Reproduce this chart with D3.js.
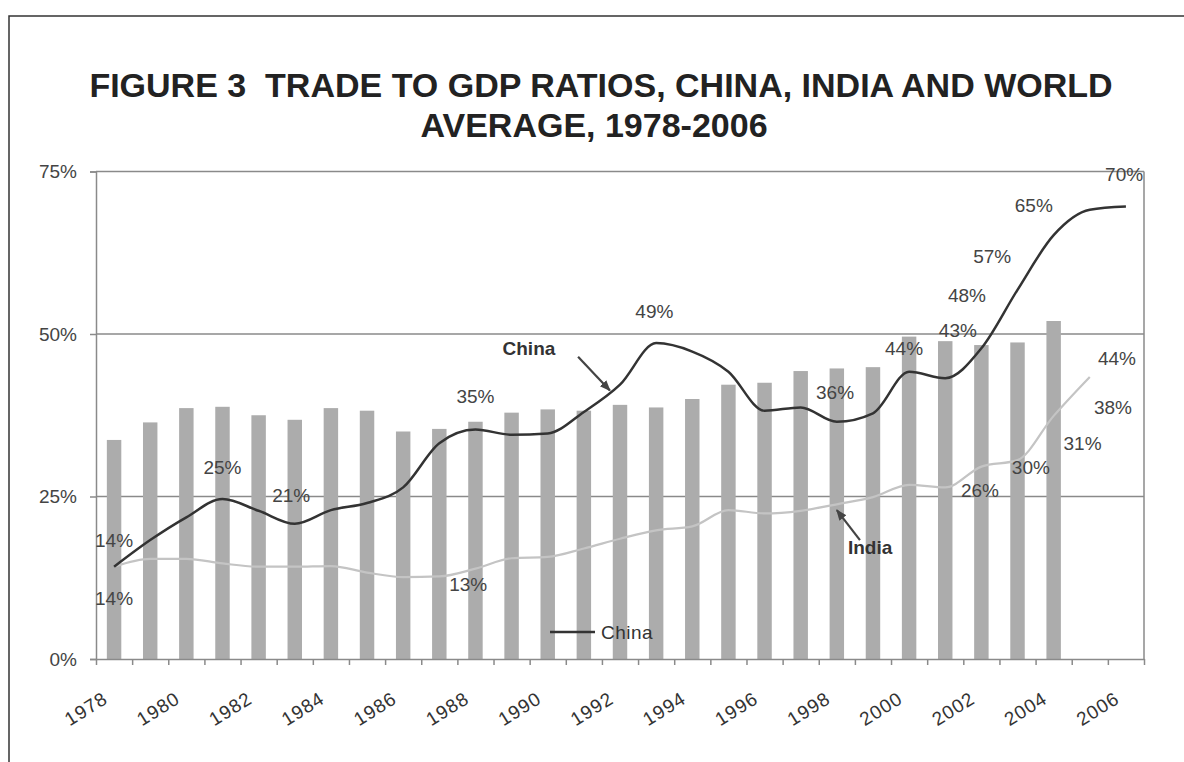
<!DOCTYPE html>
<html lang="en">
<head>
<meta charset="UTF-8"/>
<title>Figure 3 Trade to GDP ratios</title>
<script src="https://d3js.org/d3.v7.min.js"></script>
<style>
  body { margin: 0; background: #fff; }
  text { font-family: "Liberation Sans", Arial, sans-serif; }
</style>
</head>
<body>
<script>
    // Data (percent of GDP)
    var years = d3.range(1978, 2007);
    var worldAvg = [33.7, 36.4, 38.6, 38.8, 37.5, 36.8, 38.6, 38.2, 35.0, 35.4,
                    36.5, 37.9, 38.4, 38.2, 39.1, 38.7, 40.0, 42.2, 42.5, 44.3,
                    44.7, 44.9, 49.6, 48.9, 48.3, 48.7, 52.0];
    var china = [14.2, 18.3, 21.8, 24.6, 22.8, 20.8, 22.9, 24.0, 26.4, 33.2,
                 35.3, 34.5, 34.7, 38.0, 42.2, 48.6, 47.3, 44.2, 38.2, 38.7,
                 36.5, 37.8, 44.2, 43.2, 47.8, 56.8, 65.2, 69.1, 69.6];
    var india = [14.2, 15.4, 15.4, 14.7, 14.2, 14.2, 14.3, 13.3, 12.6, 12.7,
                 13.9, 15.5, 15.7, 17.0, 18.5, 19.8, 20.4, 22.9, 22.4, 22.8,
                 23.8, 24.9, 26.8, 26.4, 29.6, 30.6, 37.4, 43.4];
    var yTicks = [0, 25, 50, 75];
    var xLabelYears = d3.range(1978, 2007, 2);

    // value labels, placed in data units (year, value)
    var labelYears  = [1978.0, 1978.0, 1981.0, 1982.9, 1988.0, 1987.8, 1992.95, 1997.95, 1999.86, 2001.35,
                       2001.6, 2002.3, 2003.45, 2005.95, 2005.75, 2005.64, 2004.8, 2003.37, 2001.96];
    var labelValues = [18.3, 9.3, 29.4, 25.2, 40.4, 11.5, 53.4, 41.0, 47.7, 50.5,
                       56.0, 62.0, 69.7, 74.5, 46.2, 38.7, 33.2, 29.4, 26.0];
    var labelTexts  = ["14%", "14%", "25%", "21%", "35%", "13%", "49%", "36%", "44%", "43%",
                       "48%", "57%", "65%", "70%", "44%", "38%", "31%", "30%", "26%"];

    var W = 1184, H = 762;
    var plotLeft = 96, plotRight = 1144, plotTop = 171.5, plotBottom = 659;

    var svg = d3.select("body").append("svg")
                .attr("width", W)
                .attr("height", H);

    svg.append("defs").append("marker")
       .attr("id", "arrow")
       .attr("viewBox", "0 0 10 10")
       .attr("refX", 9).attr("refY", 5)
       .attr("markerWidth", 5).attr("markerHeight", 5)
       .attr("orient", "auto")
       .append("path")
       .attr("d", "M0,1 L10,5 L0,9 Z")
       .attr("fill", "#444");

    // outer frame (top and left edges only are visible)
    svg.append("path")
       .attr("d", "M9,762 L9,16 L1184,16")
       .attr("fill", "none")
       .attr("stroke", "#333")
       .attr("stroke-width", 1.5);

    // title
    var title = svg.append("text")
                   .attr("text-anchor", "middle")
                   .attr("font-size", 34)
                   .attr("font-weight", "bold")
                   .attr("fill", "#222");
    title.append("tspan").attr("x", 601).attr("y", 97)
         .text("FIGURE 3\u00a0 TRADE TO GDP RATIOS, CHINA, INDIA AND WORLD");
    title.append("tspan").attr("x", 594).attr("y", 137)
         .text("AVERAGE, 1978-2006");

    var xScale = d3.scaleBand()
                   .domain(years)
                   .range([plotLeft, plotRight])
                   .paddingInner(0.6)
                   .paddingOuter(0.3);

    var xYear = d3.scaleLinear()
                  .domain([1978, 2006])
                  .range([xScale(1978) + xScale.bandwidth() / 2, xScale(2006) + xScale.bandwidth() / 2]);

    var yScale = d3.scaleLinear()
                   .domain([0, 75])
                   .range([plotBottom, plotTop]);

    // gridlines
    svg.selectAll(".grid")
       .data(yTicks.slice(1))
       .enter()
       .append("line")
       .attr("class", "grid")
       .attr("x1", plotLeft).attr("x2", plotRight)
       .attr("y1", function(d) { return yScale(d); })
       .attr("y2", function(d) { return yScale(d); })
       .attr("stroke", "#8a8a8a")
       .attr("stroke-width", 1.5);

    // right border of plot
    svg.append("line")
       .attr("x1", plotRight).attr("x2", plotRight)
       .attr("y1", plotTop).attr("y2", plotBottom)
       .attr("stroke", "#8a8a8a")
       .attr("stroke-width", 1.5);

    // bars: world average
    svg.selectAll("rect.bar")
       .data(worldAvg)
       .enter()
       .append("rect")
       .attr("class", "bar")
       .attr("x", function(d, i) { return xScale(years[i]); })
       .attr("y", function(d) { return yScale(d); })
       .attr("width", xScale.bandwidth())
       .attr("height", function(d) { return plotBottom - yScale(d); })
       .attr("fill", "#acacac");

    // y axis
    var yAxis = d3.axisLeft(yScale)
                  .tickValues(yTicks)
                  .tickSize(6)
                  .tickFormat(function(d) { return d + "%"; });
    var gy = svg.append("g")
                .attr("transform", "translate(" + plotLeft + ",0)")
                .call(yAxis);
    gy.select(".domain").attr("stroke", "#8a8a8a").attr("stroke-width", 1.5);
    gy.selectAll(".tick line").attr("stroke", "#8a8a8a").attr("stroke-width", 1.5);
    gy.selectAll(".tick text")
      .attr("x", -19)
      .attr("font-size", 19)
      .attr("fill", "#444")
      .style("font-family", "'Liberation Sans', Arial, sans-serif");

    // x axis: ticks at band boundaries
    var xEdge = d3.scaleLinear()
                  .domain([1977.5, 2006.5])
                  .range([plotLeft, plotRight]);
    var xAxis = d3.axisBottom(xEdge)
                  .tickValues(d3.range(1977.5, 2007, 1))
                  .tickSize(6)
                  .tickSizeOuter(0)
                  .tickFormat("");
    var gx = svg.append("g")
                .attr("transform", "translate(0," + plotBottom + ")")
                .call(xAxis);
    gx.select(".domain").attr("stroke", "#8a8a8a").attr("stroke-width", 1.5);
    gx.selectAll(".tick line").attr("stroke", "#8a8a8a").attr("stroke-width", 1.5);

    svg.selectAll(".xlabel")
       .data(xLabelYears)
       .enter()
       .append("text")
       .attr("class", "xlabel")
       .attr("text-anchor", "end")
       .attr("font-size", 19)
       .attr("fill", "#333")
       .attr("letter-spacing", 1)
       .attr("transform", function(d) {
           return "translate(" + (xYear(d) - 5) + "," + (plotBottom + 43) + ") rotate(-32)";
       })
       .text(function(d) { return d; });

    // lines
    var line = d3.line()
                 .x(function(d, i) { return xYear(years[i]); })
                 .y(function(d) { return yScale(d); })
                 .curve(d3.curveMonotoneX);

    svg.append("path")
       .datum(india)
       .attr("d", line)
       .attr("fill", "none")
       .attr("stroke", "#c4c4c4")
       .attr("stroke-width", 2.2);

    svg.append("path")
       .datum(china)
       .attr("d", line)
       .attr("fill", "none")
       .attr("stroke", "#333")
       .attr("stroke-width", 2.5);

    // value labels
    svg.selectAll(".vlabel")
       .data(labelTexts)
       .enter()
       .append("text")
       .attr("class", "vlabel")
       .attr("text-anchor", "middle")
       .attr("dominant-baseline", "central")
       .attr("font-size", 19)
       .attr("fill", "#444")
       .attr("x", function(d, i) { return xYear(labelYears[i]); })
       .attr("y", function(d, i) { return yScale(labelValues[i]); })
       .text(function(d) { return d; });

    // series callouts with arrows
    svg.append("text")
       .attr("x", xYear(1989.48)).attr("y", yScale(47.8))
       .attr("text-anchor", "middle").attr("dominant-baseline", "central")
       .attr("font-size", 19).attr("font-weight", "bold").attr("fill", "#333")
       .text("China");
    svg.append("line")
       .attr("x1", xYear(1990.84)).attr("y1", yScale(46.5))
       .attr("x2", xYear(1991.72)).attr("y2", yScale(41.3))
       .attr("stroke", "#444").attr("stroke-width", 2.2)
       .attr("marker-end", "url(#arrow)");

    svg.append("text")
       .attr("x", xYear(1998.92)).attr("y", yScale(17.2))
       .attr("text-anchor", "middle").attr("dominant-baseline", "central")
       .attr("font-size", 19).attr("font-weight", "bold").attr("fill", "#333")
       .text("India");
    svg.append("line")
       .attr("x1", xYear(1998.64)).attr("y1", yScale(18.3))
       .attr("x2", xYear(1998.0)).attr("y2", yScale(22.9))
       .attr("stroke", "#444").attr("stroke-width", 2.2)
       .attr("marker-end", "url(#arrow)");

    // legend
    var legend = svg.append("g").attr("transform", "translate(550,632)");
    legend.append("line")
          .attr("x1", 0).attr("x2", 45)
          .attr("stroke", "#333").attr("stroke-width", 2.5);
    legend.append("text")
          .attr("x", 51).attr("dominant-baseline", "central")
          .attr("font-size", 19).attr("fill", "#333")
          .attr("letter-spacing", 0.5)
          .text("China");
</script>
</body>
</html>
